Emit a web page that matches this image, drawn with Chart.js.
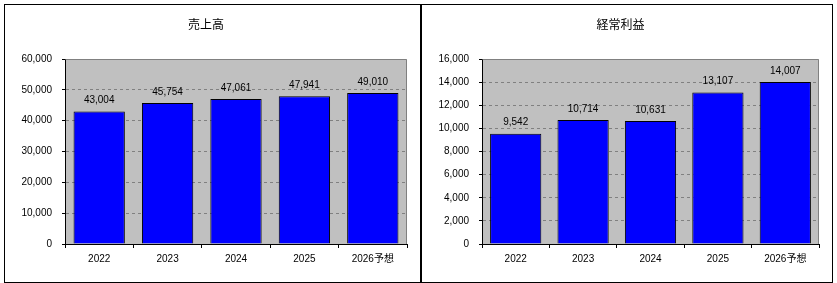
<!DOCTYPE html>
<html><head><meta charset="utf-8">
<script src="https://cdn.jsdelivr.net/npm/chart.js@4/dist/chart.umd.min.js"></script>
<style>
html,body{margin:0;padding:0;background:#fff;}
#frame{position:absolute;left:4px;top:4px;width:827px;height:277px;border:1px solid #000;}
#c1wrap{position:absolute;left:0;top:0;width:415px;height:277px;}
#div{position:absolute;left:415px;top:0;width:2px;height:277px;background:#000;}
#c2wrap{position:absolute;left:417px;top:0;width:410px;height:277px;}
</style></head>
<body>
<div id="frame">
<div id="c1wrap"><canvas id="c1" width="415" height="277"></canvas></div>
<div id="div"></div>
<div id="c2wrap"><canvas id="c2" width="410" height="277"></canvas></div>
</div>
<script>
const categories = ["2022","2023","2024","2025","2026予想"];
const salesValues = [43004,45754,47061,47941,49010];
const profitValues = [9542,10714,10631,13107,14007];
const salesTitle = "売上高";
const profitTitle = "経常利益";
const salesAxis = {max:60000, step:10000};
const profitAxis = {max:16000, step:2000};

const FONT = "'Liberation Sans', 'Noto Sans CJK JP', sans-serif";
const fmt = v => Number(v).toLocaleString('en-US');

const plotBg = {
  id:'plotBg',
  beforeDraw(chart){
    const a = chart.chartArea, ctx = chart.ctx;
    ctx.save(); ctx.fillStyle = '#C0C0C0';
    ctx.fillRect(a.left, a.top, a.right - a.left, a.bottom - a.top);
    ctx.restore();
  },
  beforeDatasetsDraw(chart){
    const a = chart.chartArea, ctx = chart.ctx;
    ctx.save(); ctx.strokeStyle = '#808080'; ctx.lineWidth = 1;
    ctx.beginPath();
    ctx.moveTo(Math.round(a.left)+0.5, Math.round(a.top)+0.5);
    ctx.lineTo(Math.round(a.right)-0.5, Math.round(a.top)+0.5);
    ctx.lineTo(Math.round(a.right)-0.5, Math.round(a.bottom));
    ctx.stroke(); ctx.restore();
  },
  afterDatasetsDraw(chart){
    const ctx = chart.ctx;
    const meta = chart.getDatasetMeta(0);
    const data = chart.data.datasets[0].data;
    ctx.save();
    ctx.font = "10px " + FONT; ctx.fillStyle = '#000';
    ctx.textAlign = 'center'; ctx.textBaseline = 'middle';
    meta.data.forEach((bar,i)=>{ ctx.fillText(fmt(data[i]), bar.x, bar.y - 11); });
    ctx.restore();
  }
};

function makeChart(id, title, values, axis, barPct){
  return new Chart(document.getElementById(id), {
    type:'bar',
    data:{labels:categories, datasets:[{data:values, backgroundColor:'#0000FF', borderColor:'#000', borderWidth:1, barPercentage:barPct, categoryPercentage:1}]},
    options:{
      responsive:false, animation:false, devicePixelRatio:1,
      layout:{padding:{left:0,right:13,top:0,bottom:0}},
      plugins:{
        legend:{display:false}, tooltip:{enabled:false},
        title:{display:true, text:title, color:'#000', font:{family:FONT, size:12, weight:'normal', lineHeight:1.2}, padding:{top:13,bottom:26.6}}
      },
      scales:{
        x:{
          grid:{offset:true, drawOnChartArea:false, drawTicks:true, tickLength:4, tickColor:'#000'},
          border:{display:true, color:'#000', width:1},
          ticks:{color:'#000', font:{family:FONT, size:10}, padding:5, maxRotation:0, autoSkip:false},
          afterFit(s){ s.height = 38; }
        },
        y:{
          min:0, max:axis.max,
          grid:{color:'#808080', tickColor:'#000', tickLength:3, drawTicks:true},
          border:{display:true, color:'#000', width:1, dash:[3,3]},
          ticks:{stepSize:axis.step, color:'#000', font:{family:FONT, size:10}, padding:10, callback:v=>fmt(v)},
          afterFit(s){ s.width = 60; }
        }
      }
    },
    plugins:[plotBg]
  });
}
makeChart('c1', salesTitle, salesValues, salesAxis, 0.75);
makeChart('c2', profitTitle, profitValues, profitAxis, 0.76);
</script>
</body></html>
